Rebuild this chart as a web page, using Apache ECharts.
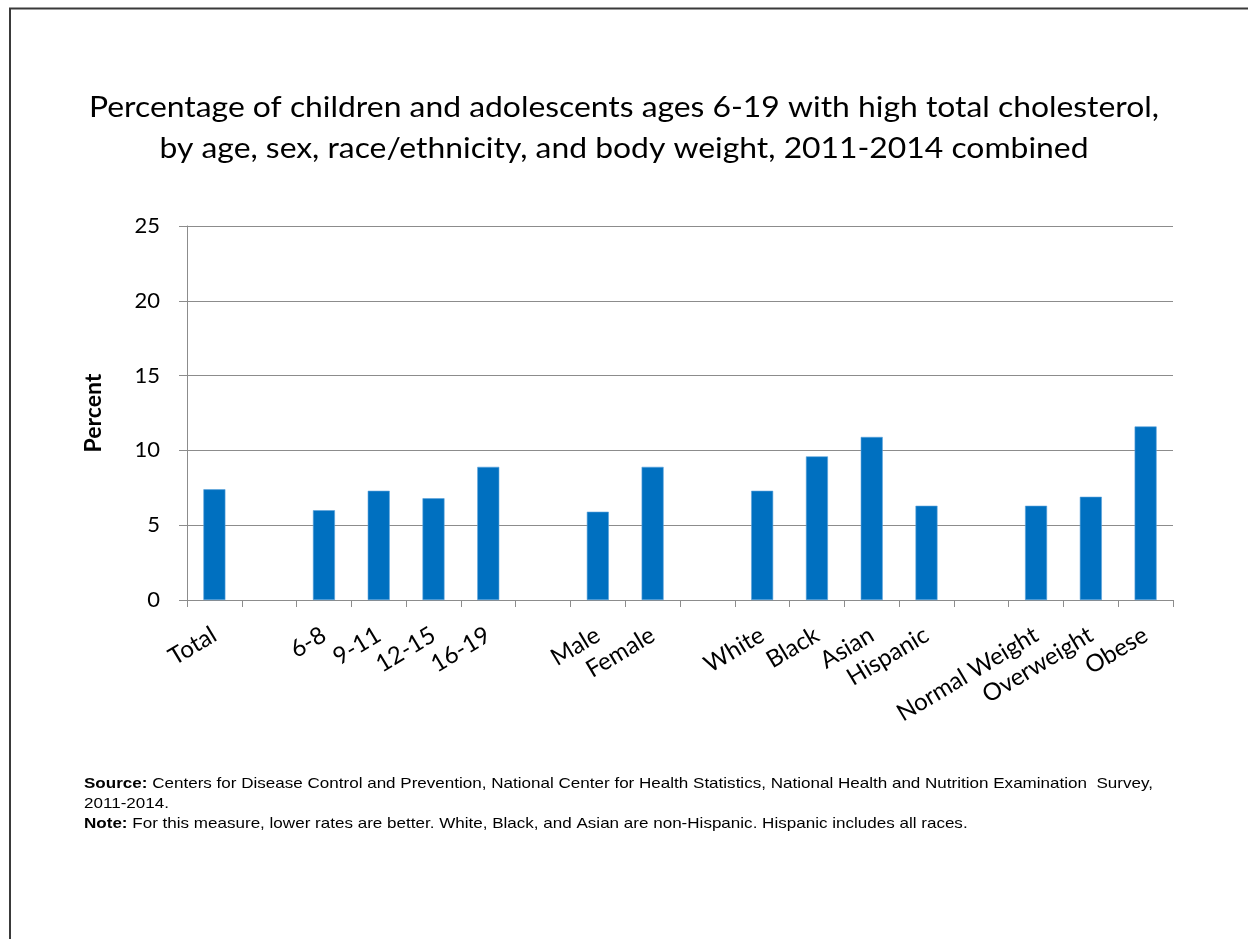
<!DOCTYPE html>
<html>
<head>
<meta charset="utf-8">
<style>
  html, body { margin: 0; padding: 0; background: #fff; }
  #chart { width: 1248px; height: 939px; }
</style>
<script src="https://cdn.jsdelivr.net/npm/echarts@6/dist/echarts.min.js"></script>
</head>
<body>
<div id="chart"></div>
<script>
// Percent with high total cholesterol, grouped by characteristic
const totalLabels = ['Total'];
const totalValues = [7.4];
const ageLabels = ['6-8', '9-11', '12-15', '16-19'];
const ageValues = [6.0, 7.3, 6.8, 8.9];
const sexLabels = ['Male', 'Female'];
const sexValues = [5.9, 8.9];
const raceLabels = ['White', 'Black', 'Asian', 'Hispanic'];
const raceValues = [7.3, 9.6, 10.9, 6.3];
const weightLabels = ['Normal Weight', 'Overweight', 'Obese'];
const weightValues = [6.3, 6.9, 11.6];
const yTicks = [0, 5, 10, 15, 20, 25];

const titleLines = [
  'Percentage of children and adolescents ages 6-19 with high total cholesterol,',
  'by age, sex, race/ethnicity, and body weight, 2011-2014 combined'
];
const sourceLine1 = 'Centers for Disease Control and Prevention, National Center for Health Statistics, National Health and Nutrition Examination  Survey,';
const sourceLine2 = '2011-2014.';
const noteLine = 'For this measure, lower rates are better. White, Black, and Asian are non-Hispanic. Hispanic includes all races.';

// Groups are separated by an empty category slot
const groups = [
  [totalLabels, totalValues],
  [ageLabels, ageValues],
  [sexLabels, sexValues],
  [raceLabels, raceValues],
  [weightLabels, weightValues]
];
const categories = [];
const values = [];
groups.forEach(([labels, vals], gi) => {
  if (gi > 0) { categories.push(''); values.push(null); }
  labels.forEach((l, i) => { categories.push(l); values.push(vals[i]); });
});

const calibriLike = 'Lato, "Open Sans", sans-serif';
const arialLike = '"Liberation Sans", Arial, sans-serif';

// Horizontal squeeze/stretch so a line of text spans the wanted width
const measureCtx = document.createElement('canvas').getContext('2d');
function widthOf(text, font) {
  measureCtx.font = font;
  return measureCtx.measureText(text).width;
}

const titleSize = 29;
const titleFont = titleSize + 'px Lato';
const titleScale = 1070 / widthOf(titleLines[0], titleFont);

const srcSize = 15;
const srcFontReg = srcSize + 'px "Liberation Sans"';
const srcFontBold = 'bold ' + srcSize + 'px "Liberation Sans"';
const srcScale = 1069 / (widthOf('Source: ', srcFontBold) + widthOf(sourceLine1, srcFontReg));

function titleText(line, y) {
  return {
    type: 'text',
    x: 624,
    y: y,
    scaleX: titleScale,
    silent: true,
    style: {
      text: line,
      x: 0, y: 0,
      align: 'center',
      verticalAlign: 'middle',
      fill: '#000',
      font: titleFont
    }
  };
}

function sourceText(y, bold, rest) {
  return {
    type: 'text',
    x: 84,
    y: y,
    scaleX: srcScale,
    silent: true,
    style: {
      text: (bold ? '{b|' + bold + '} ' : '') + rest,
      x: 0, y: 0,
      align: 'left',
      verticalAlign: 'middle',
      fill: '#000',
      fontFamily: arialLike,
      fontSize: srcSize,
      rich: {
        b: { fontFamily: arialLike, fontSize: srcSize, fontWeight: 'bold', fill: '#000' }
      }
    }
  };
}

const chart = echarts.init(document.getElementById('chart'), null, { renderer: 'canvas' });
chart.setOption({
  backgroundColor: '#ffffff',
  animation: false,
  graphic: [
    {
      type: 'polyline',
      shape: { points: [[10, 939], [10, 8.5], [1248, 8.5]] },
      style: { stroke: '#3a3a3a', lineWidth: 2, fill: null },
      silent: true
    },
    titleText(titleLines[0], 108),
    titleText(titleLines[1], 149),
    sourceText(784, 'Source:', sourceLine1),
    sourceText(804, '', sourceLine2),
    sourceText(824, 'Note:', noteLine)
  ],
  grid: {
    left: 187,
    right: 75,
    top: 226,
    bottom: 339,
    containLabel: false
  },
  xAxis: {
    type: 'category',
    data: categories,
    boundaryGap: true,
    axisLine: { show: true, lineStyle: { color: '#8c8c8c', width: 1 } },
    axisTick: { show: true, alignWithLabel: false, interval: 0, length: 7, lineStyle: { color: '#8c8c8c' } },
    axisLabel: {
      interval: 0,
      rotate: 31,
      margin: 33,
      fontFamily: calibriLike,
      fontSize: 24,
      color: '#000'
    },
    splitLine: { show: false }
  },
  yAxis: {
    type: 'value',
    min: yTicks[0],
    max: yTicks[yTicks.length - 1],
    interval: 5,
    name: 'Percent',
    nameLocation: 'middle',
    nameGap: 82,
    nameRotate: 90,
    nameTextStyle: {
      fontFamily: calibriLike,
      fontSize: 23,
      fontWeight: 'bold',
      color: '#000'
    },
    axisLine: { show: true, lineStyle: { color: '#8c8c8c', width: 1 } },
    axisTick: { show: true, length: 8, lineStyle: { color: '#8c8c8c' } },
    axisLabel: {
      margin: 27,
      fontFamily: calibriLike,
      fontSize: 22,
      color: '#000'
    },
    splitLine: { show: true, lineStyle: { color: '#8c8c8c', width: 1 } }
  },
  series: [
    {
      type: 'bar',
      data: values,
      barWidth: 22,
      itemStyle: { color: '#0070C0', borderColor: '#5aa3dc', borderWidth: 0.6 },
      emphasis: { disabled: true }
    }
  ]
});
</script>
</body>
</html>
